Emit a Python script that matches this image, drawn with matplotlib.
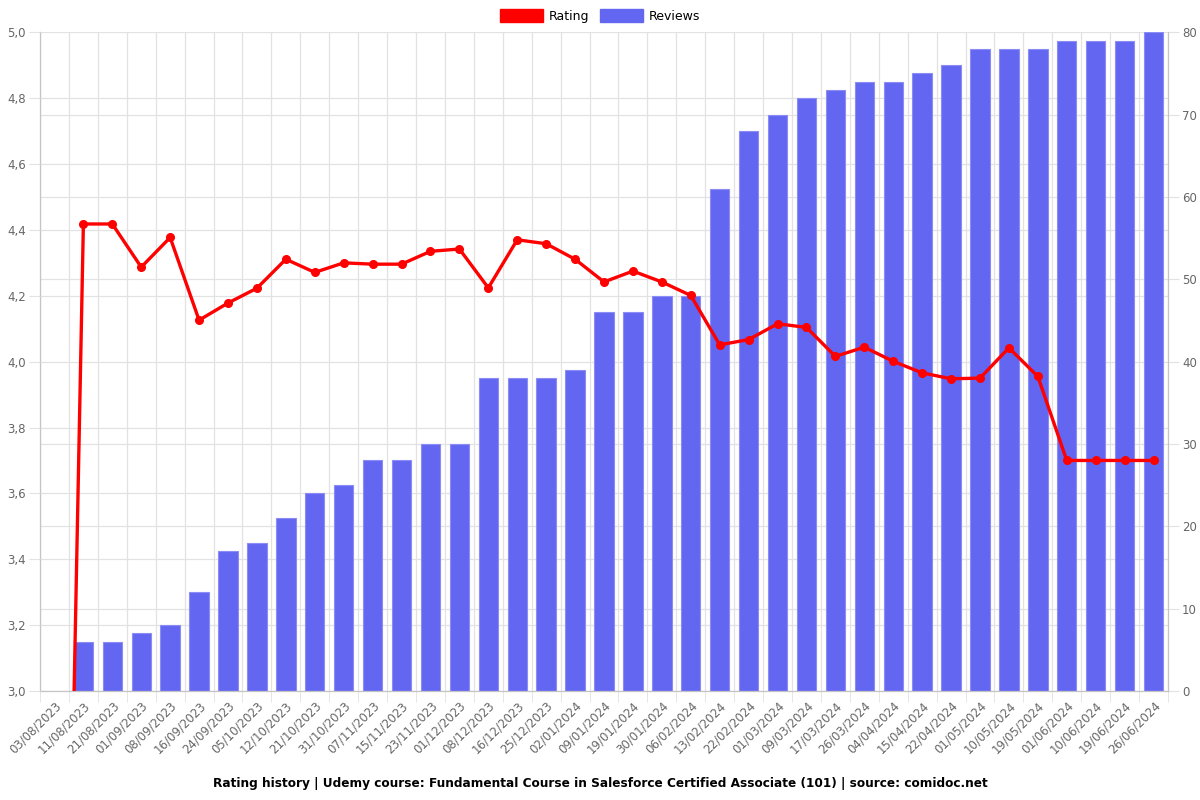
import numpy as np
import matplotlib
matplotlib.use("Agg")
import matplotlib.pyplot as plt
from matplotlib.patches import Patch
from matplotlib.ticker import FuncFormatter, FixedLocator

dates = ["03/08/2023", "11/08/2023", "21/08/2023", "01/09/2023", "08/09/2023",
         "16/09/2023", "24/09/2023", "05/10/2023", "12/10/2023", "21/10/2023",
         "31/10/2023", "07/11/2023", "15/11/2023", "23/11/2023", "01/12/2023",
         "08/12/2023", "16/12/2023", "25/12/2023", "02/01/2024", "09/01/2024",
         "19/01/2024", "30/01/2024", "06/02/2024", "13/02/2024", "22/02/2024",
         "01/03/2024", "09/03/2024", "17/03/2024", "26/03/2024", "04/04/2024",
         "15/04/2024", "22/04/2024", "01/05/2024", "10/05/2024", "19/05/2024",
         "01/06/2024", "10/06/2024", "19/06/2024", "26/06/2024"]

rating = [0.0, 4.418, 4.418, 4.287, 4.377, 4.126, 4.178, 4.223, 4.311, 4.271,
          4.300, 4.296, 4.296, 4.335, 4.342, 4.224, 4.370, 4.358, 4.311, 4.242,
          4.275, 4.242, 4.201, 4.051, 4.067, 4.115, 4.104, 4.016, 4.044, 4.001,
          3.966, 3.948, 3.950, 4.042, 3.955, 3.700, 3.700, 3.700, 3.700]

reviews = [0, 6, 6, 7, 8, 12, 17, 18, 21, 24, 25, 28, 28, 30, 30, 38, 38, 38, 39,
           46, 46, 48, 48, 61, 68, 70, 72, 73, 74, 74, 75, 76, 78, 78, 78, 79, 79,
           79, 80]

rating_min, rating_max, rating_step = 3.0, 5.0, 0.2
reviews_max, reviews_step = 80, 10

BAR_COLOR = "#6366F1"
LINE_COLOR = "#FF0000"
GRID = "#e2e2e2"
SPINE = "#c4c4c4"
TXT = "#666666"

plt.rcParams['font.family'] = ['DejaVu Sans']

fig = plt.figure(figsize=(12, 8), dpi=100)
L, R, T, B = 40 / 1200, 1168 / 1200, 1 - 32.3 / 800, 1 - 691 / 800
ax = fig.add_axes([L, B, R - L, T - B])
ax2 = ax.twinx()
n = len(dates)
x = np.arange(n)

# bars (reviews) on primary axes, ticks on the right
edge_w = [0.8 if v > 0 else 0.0 for v in reviews]
ax.bar(x, reviews, width=0.67, color=BAR_COLOR, edgecolor="#8b8df5",
       linewidth=edge_w, zorder=2)
ax.set_xlim(-0.5, n - 0.5)
ax.set_ylim(0, reviews_max)
ax.set_yticks(np.arange(0, reviews_max + 1, reviews_step))
# rating grid positions expressed in reviews scale
nr = int(round((rating_max - rating_min) / rating_step))
ax.yaxis.set_minor_locator(FixedLocator(np.linspace(0, reviews_max, nr + 1)))
ax.tick_params(axis='y', which='minor', length=0)
ax.tick_params(axis='y', which='major', length=8, color=GRID, labelcolor=TXT,
               labelsize=8.5, pad=2)
ax.yaxis.tick_right()
ax.grid(axis='y', which='both', color=GRID, linewidth=0.9, zorder=0)

ax.set_xticks(x)
ax.set_xticklabels(dates, rotation=45, ha='right', rotation_mode='anchor',
                   fontsize=8.5, color=TXT)
ax.xaxis.set_minor_locator(FixedLocator(np.arange(-0.5, n, 1.0)))
ax.tick_params(axis='x', which='major', length=0, pad=6)
ax.tick_params(axis='x', which='minor', length=8, color=GRID)
ax.grid(axis='x', which='minor', color=GRID, linewidth=0.9, zorder=0)
ax.set_axisbelow(True)
ax.spines['top'].set_visible(False)
for s in ['left', 'right', 'bottom']:
    ax.spines[s].set_color(SPINE)
    ax.spines[s].set_linewidth(0.9)

# rating line on twin axes, ticks on the left
ax2.plot(x, rating, color=LINE_COLOR, linewidth=2.4, marker='o', markersize=5.5,
         zorder=5, clip_on=True)
ax2.set_ylim(rating_min, rating_max)
ax2.set_yticks(np.round(np.arange(rating_min, rating_max + 1e-9, rating_step), 1))
ax2.yaxis.set_major_formatter(FuncFormatter(lambda v, p: f"{v:.1f}".replace('.', ',')))
ax2.tick_params(axis='y', length=8, color=GRID, labelcolor=TXT, labelsize=8.5, pad=2)
ax2.yaxis.tick_left()
for s in ax2.spines.values():
    s.set_visible(False)

handles = [Patch(facecolor=LINE_COLOR, edgecolor=LINE_COLOR),
           Patch(facecolor=BAR_COLOR, edgecolor=BAR_COLOR)]
fig.legend(handles, ["Rating", "Reviews"], loc='center', bbox_to_anchor=(0.5, 1 - 16 / 800),
           ncol=2, frameon=False, fontsize=9, handlelength=3.4, handleheight=1.2,
           handletextpad=0.45, columnspacing=0.9)

fig.text(0.5, 1 - 783 / 800,
         "Rating history | Udemy course: Fundamental Course in Salesforce Certified Associate (101) | source: comidoc.net",
         ha='center', va='center', fontsize=8.7, fontweight='bold')

fig.savefig("out.png", dpi=100)
